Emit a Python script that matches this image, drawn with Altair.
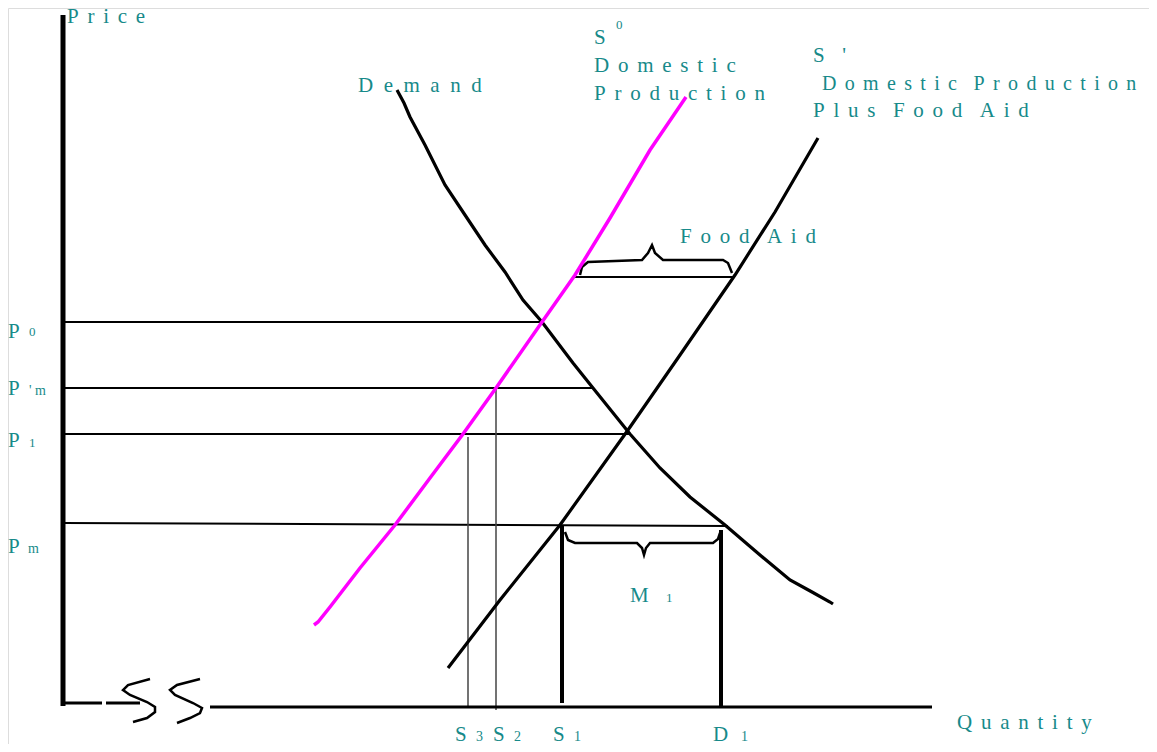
import altair as alt
import pandas as pd

# ---- curves (Quantity, Price) ----
demand_q = [334, 341, 347, 362, 382, 402, 422, 442, 460, 479, 510, 530, 567, 597, 627, 662, 697, 727, 749, 767, 770]
demand_p = [616, 603, 589, 561, 521, 491, 461, 434, 406, 384, 343, 318, 272, 238, 209, 181, 151, 126, 114, 104, 102]

s0_q = [623, 587, 547, 512, 479, 433, 400, 367, 332, 297, 267, 255, 251]
s0_p = [609, 556, 488, 431, 384, 318, 272, 228, 181, 138, 99, 84, 81]

s1_q = [385, 437, 497, 565, 617, 672, 712, 755]
s1_p = [38, 106, 181, 276, 351, 431, 494, 568]

# ---- price / quantity levels ----
price_levels = {"P0": 384, "Pm_prime": 318, "P1": 272, "Pm": 183, "Pm_end": 180, "food": 429}
qty_levels = {"S3": 405, "S2": 433, "S1": 499, "D1": 658}

# ---- braces ----
brace_food_q = [517, 519, 525, 579, 585, 589, 592, 600, 660, 665, 669]
brace_food_p = [431, 439, 444, 446, 453, 461, 453, 446, 446, 443, 433]
brace_m_q = [502, 505, 512, 574, 579, 581, 583, 587, 650, 655, 657]
brace_m_p = [174, 166, 163, 163, 158, 151, 158, 163, 163, 167, 173]

# ---- axis break squiggles ----
sq1_q = [87, 65, 60, 67, 84, 92, 92, 84, 70]
sq1_p = [27, 21, 16, 11, 4, -1, -6, -12, -16]
sq2_q = [137, 114, 107, 112, 130, 139, 137, 127, 114]
sq2_p = [27, 21, 16, 11, 3, -2, -7, -12, -17]

# ---- labels ----
label_text = ["Price", "Demand", "S", "0", "Domestic", "Production",
              "S '", "Domestic Production", "Plus Food Aid", "Food Aid",
              "P", "0", "P", "' m", "P", "1", "P", "m",
              "M", "1", "Quantity",
              "S", "3", "S", "2", "S", "1", "D", "1"]
label_q = [4, 295, 531, 553, 531, 531,
           750, 759, 750, 617,
           -55, -34, -55, -34, -55, -34, -55, -35,
           567, 603, 894,
           392, 413, 430, 451, 490, 511, 650, 678]
label_p = [683, 614, 662, 677, 634, 606,
           644, 616, 589, 463,
           368, 370, 311, 311, 259, 259, 153, 153,
           104, 104, -23,
           -35, -35, -35, -35, -35, -35, -35, -35]
label_size = [21, 21, 21, 13, 21, 21,
              21, 20, 21, 21,
              21, 13, 21, 14, 21, 13, 21, 14,
              21, 13, 21,
              21, 14, 21, 14, 21, 14, 21, 14]
label_gap = ["\u2005\u2006", "\u2002", "\u2005\u2006", "", "\u2005\u2006", "\u2005\u2006",
             "\u2005\u2006", "\u2005\u2006", "\u2005\u2006", "\u2005\u2006",
             "\u2005", "", "\u2005", "", "\u2005", "", "\u2005", "",
             "\u2005", "", "\u2005\u2006",
             "\u2005", "", "\u2005", "", "\u2005", "", "\u2005", ""]


def spaced(t, gap):
    if not gap:
        return t
    words = t.split(" ")
    return (gap + gap).join(gap.join(list(w)) for w in words)


def seg_rows(name, qs, ps):
    return [{"id": name, "Q": q, "P": p, "o": i} for i, (q, p) in enumerate(zip(qs, ps))]


X = alt.X("Q:Q", scale=alt.Scale(domain=[-55, 1086], nice=False, zero=False), axis=None)
Y = alt.Y("P:Q", scale=alt.Scale(domain=[-38, 698], nice=False, zero=False), axis=None)


def lines(rows, color, width):
    df = pd.DataFrame(rows)
    return alt.Chart(df).mark_line(color=color, strokeWidth=width, interpolate="linear").encode(
        x=X, y=Y, detail="id:N", order="o:Q")


pl = price_levels
ql = qty_levels

thin_rows = (seg_rows("p0", [0, 479], [pl["P0"]] * 2)
             + seg_rows("pmp", [0, 530], [pl["Pm_prime"]] * 2)
             + seg_rows("p1", [0, 567], [pl["P1"]] * 2)
             + seg_rows("pm", [0, 665], [pl["Pm"], pl["Pm_end"]])
             + seg_rows("food", [510, 672], [pl["food"]] * 2))

gray_rows = (seg_rows("s3", [ql["S3"]] * 2, [269, 0])
             + seg_rows("s2", [ql["S2"]] * 2, [pl["Pm_prime"], -4]))

thick_rows = (seg_rows("s1", [ql["S1"]] * 2, [181, 3])
              + seg_rows("d1", [ql["D1"]] * 2, [176, 0]))

axis_rows = (seg_rows("ax1", [0, 39], [3, 3])
             + seg_rows("ax2", [43, 77], [3, 3])
             + seg_rows("ax3", [147, 869], [-1, -1]))

yaxis_rows = seg_rows("yax", [0, 0], [691, 0])

curve_rows = (seg_rows("demand", demand_q, demand_p)
              + seg_rows("sprime", s1_q, s1_p))

brace_rows = (seg_rows("bf", brace_food_q, brace_food_p)
              + seg_rows("bm", brace_m_q, brace_m_p)
              + seg_rows("sq1", sq1_q, sq1_p)
              + seg_rows("sq2", sq2_q, sq2_p))

magenta_rows = seg_rows("s0", s0_q, s0_p)

lab = pd.DataFrame({
    "t": [spaced(t, g) for t, g in zip(label_text, label_gap)],
    "Q": label_q, "P": label_p, "size": label_size,
})

TEAL = "#178a8a"
FONT = "Liberation Serif"

texts = alt.Chart(lab).mark_text(
    align="left", baseline="alphabetic", font=FONT, color=TEAL
).encode(x=X, y=Y, text="t:N", size=alt.Size("size:Q", scale=None, legend=None))

chart = alt.layer(
    lines(thin_rows, "#000000", 2),
    lines(gray_rows, "#444444", 1.5),
    lines(thick_rows, "#000000", 4),
    lines(axis_rows, "#000000", 3),
    lines(yaxis_rows, "#000000", 5),
    lines(curve_rows, "#000000", 3.2),
    lines(brace_rows, "#000000", 2.5),
    lines(magenta_rows, "#ff00ff", 3.5),
    texts,
).properties(
    width=1141, height=736, padding=0, autosize=alt.AutoSizeParams(type="none")
).configure_view(stroke=None).configure(background="white")

chart.save("out.html", embed_options={"renderer": "svg", "actions": False})
